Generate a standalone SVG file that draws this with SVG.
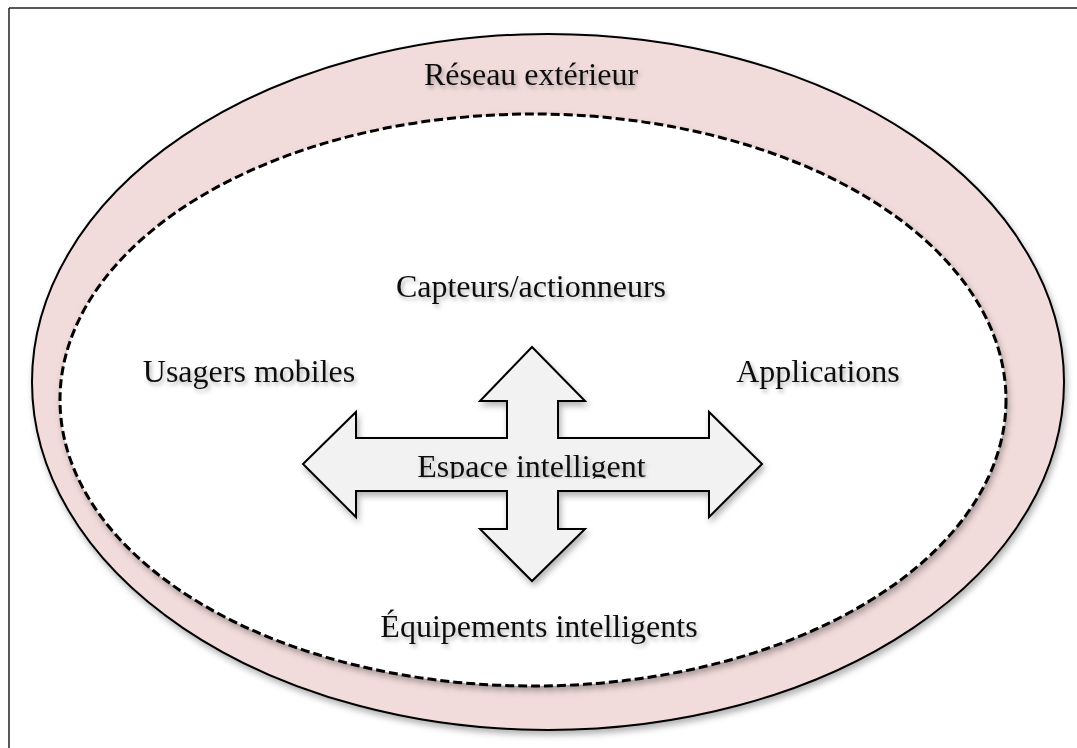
<svg xmlns="http://www.w3.org/2000/svg" width="1077" height="748" viewBox="0 0 1077 748">
  <style>
    .lbl { font-family: "Liberation Serif", "Times New Roman", serif; font-size: 32px; fill: #111; text-anchor: middle; filter: url(#tshadow); }
  </style>
  <defs>
    <filter id="shadow" x="-10%" y="-10%" width="120%" height="130%">
      <feDropShadow dx="2" dy="4" stdDeviation="3" flood-color="#000" flood-opacity="0.3"/>
    </filter>
    <filter id="tshadow" x="-10%" y="-30%" width="120%" height="180%">
      <feDropShadow dx="2" dy="3" stdDeviation="2" flood-color="#000" flood-opacity="0.3"/>
    </filter>
    <clipPath id="espClip">
      <rect x="380" y="430" width="300" height="48.5"/>
    </clipPath>
  </defs>
  <rect width="1077" height="748" fill="#fff"/>
  <g id="frame" fill="none" stroke="#222" stroke-width="1.5">
    <line x1="9" y1="8" x2="1077" y2="8"/>
    <line x1="9" y1="8" x2="9" y2="748"/>
  </g>
  <g id="reseau-exterieur">
    <ellipse cx="548" cy="382" rx="516" ry="348" fill="#F2DCDB" stroke="#000" stroke-width="2" filter="url(#shadow)"/>
    <text class="lbl" x="531" y="85">Réseau extérieur</text>
  </g>
  <g id="espace-interieur">
    <ellipse cx="533" cy="400" rx="473" ry="286" fill="#fff" stroke="#000" stroke-width="3" stroke-dasharray="9 4" filter="url(#shadow)"/>
  </g>
  <g id="capteurs">
    <text class="lbl" x="531" y="297">Capteurs/actionneurs</text>
  </g>
  <g id="usagers">
    <text class="lbl" x="249" y="382">Usagers mobiles</text>
  </g>
  <g id="applications">
    <text class="lbl" x="818" y="382">Applications</text>
  </g>
  <g id="equipements">
    <text class="lbl" x="539" y="637">Équipements intelligents</text>
  </g>
  <g id="connectors">
    <polygon points="532,347 585,401 558,401 558,438 709,438 709,412 762,464 709,517 709,491 558,491 558,529 585,529 532,581 480,529 507,529 507,491 356,491 356,517 303,464 356,412 356,438 507,438 507,401 480,401" fill="#F2F2F2" stroke="#000" stroke-width="2" stroke-linejoin="miter" filter="url(#shadow)"/>
  </g>
  <g id="espace-intelligent">
    <g clip-path="url(#espClip)">
      <text class="lbl" x="531.5" y="477">Espace intelligent</text>
    </g>
  </g>
</svg>
